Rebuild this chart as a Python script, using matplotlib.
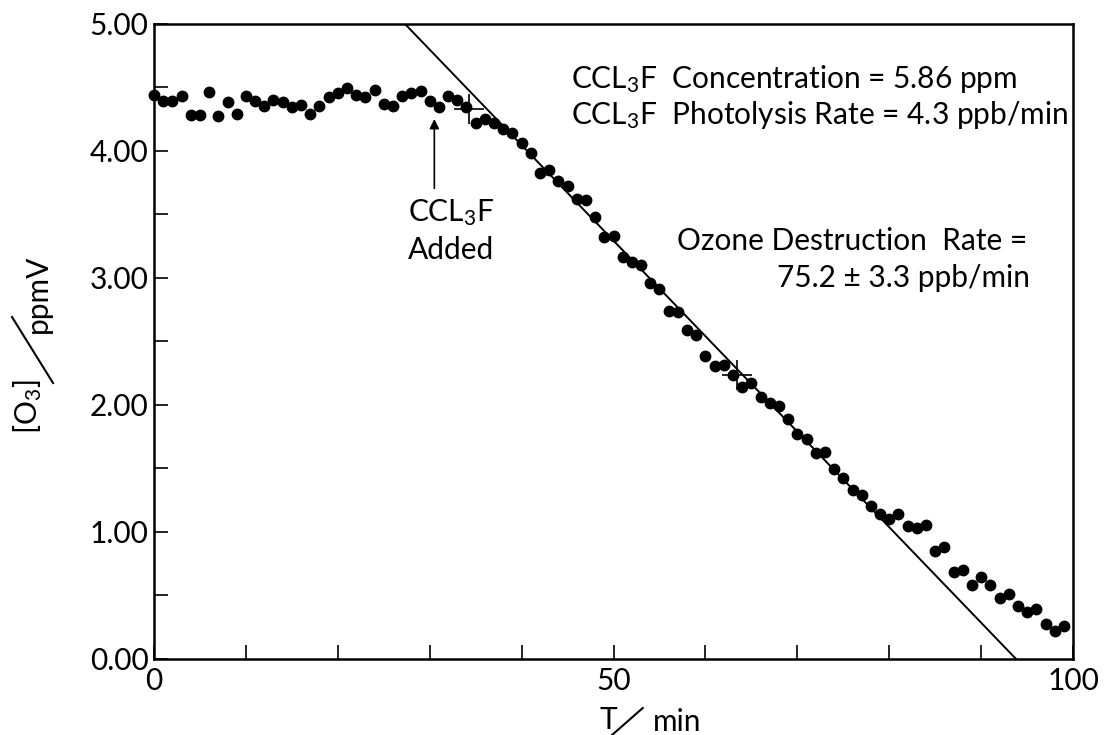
import matplotlib
matplotlib.use('Agg')
import matplotlib.pyplot as plt
from matplotlib.ticker import MultipleLocator, FormatStrFormatter
from matplotlib.lines import Line2D
import numpy as np

plt.rcParams['font.family'] = 'Lato'
plt.rcParams['mathtext.fontset'] = 'custom'
plt.rcParams['mathtext.rm'] = 'Lato'
plt.rcParams['mathtext.it'] = 'Lato:italic'
plt.rcParams['font.size'] = 21.5

# ozone readings, one per minute
minutos = list(range(100))
ozonio = [4.44, 4.39, 4.39, 4.43, 4.28, 4.28, 4.46, 4.27, 4.38, 4.29,
          4.43, 4.39, 4.35, 4.40, 4.38, 4.34, 4.36, 4.29, 4.35, 4.42,
          4.45, 4.49, 4.44, 4.42, 4.48, 4.37, 4.35, 4.43, 4.45, 4.47,
          4.39, 4.34, 4.43, 4.40, 4.34, 4.22, 4.25, 4.22, 4.17, 4.14,
          4.06, 3.98, 3.82, 3.85, 3.76, 3.72, 3.62, 3.61, 3.48, 3.32,
          3.33, 3.16, 3.12, 3.10, 2.96, 2.91, 2.74, 2.73, 2.59, 2.55,
          2.38, 2.30, 2.31, 2.23, 2.14, 2.17, 2.06, 2.01, 1.99, 1.89,
          1.77, 1.73, 1.62, 1.63, 1.49, 1.42, 1.33, 1.29, 1.20, 1.14,
          1.10, 1.14, 1.04, 1.03, 1.05, 0.85, 0.88, 0.68, 0.70, 0.58,
          0.64, 0.58, 0.48, 0.51, 0.41, 0.37, 0.39, 0.27, 0.22, 0.26]

# fitted destruction line: O3 = a + b*t  (b = -75.2 ppb/min)
reta_a = 7.05
reta_b = -0.0752
reta_t = [27, 94]

# crosses marking the fitted window
cruz_t = [34.3, 63.4]
cruz_o3 = [4.33, 2.23]

fig = plt.figure(figsize=(11.12, 7.35), dpi=100)
ax = fig.add_axes([0.1385, 0.104, 0.8265, 0.864])

ax.plot(minutos, ozonio, 'o', color='black', ms=7.5, clip_on=False)
t_reta = np.array(reta_t)
ax.plot(t_reta, reta_a + reta_b * t_reta, color='black', lw=1.4)
ax.plot(cruz_t, cruz_o3, '+', color='black', ms=22, mew=1.2)

ax.set_xlim(0, 100)
ax.set_ylim(0, 5)
ax.xaxis.set_major_locator(MultipleLocator(50))
ax.xaxis.set_minor_locator(MultipleLocator(10))
ax.yaxis.set_major_locator(MultipleLocator(1))
ax.yaxis.set_minor_locator(MultipleLocator(0.5))
ax.yaxis.set_major_formatter(FormatStrFormatter('%.2f'))
ax.tick_params(which='both', direction='in', length=10, width=1.2,
               top=False, right=False)
ax.tick_params(axis='x', pad=6)
ax.tick_params(axis='y', pad=4)
for sp in ax.spines.values():
    sp.set_linewidth(1.8)

# annotations
ax.text(45.4, 4.56, r'CCL$_3$F  Concentration = 5.86 ppm', ha='left', va='center')
ax.text(45.4, 4.28, r'CCL$_3$F  Photolysis Rate = 4.3 ppb/min', ha='left', va='center')
ax.text(32.3, 3.51, r'CCL$_3$F', ha='center', va='center')
ax.text(32.3, 3.22, 'Added', ha='center', va='center')
ax.annotate('', xy=(30.5, 4.27), xytext=(30.5, 3.68),
            arrowprops=dict(arrowstyle='-|>', color='black', lw=1.2, mutation_scale=14))
ax.text(95, 3.29, 'Ozone Destruction  Rate =', ha='right', va='center')
ax.text(95.3, 3.00, '75.2 \u00b1 3.3 ppb/min', ha='right', va='center')

# axis labels drawn as "numerator / denominator" with a long slash
fig.text(0.0252, 0.4463, r'[O$_3$]', rotation=90, ha='center', va='center')
fig.text(0.0342, 0.6000, 'ppmV', rotation=90, ha='center', va='center')
fig.add_artist(Line2D([0.0108, 0.0477], [0.5687, 0.4789], color='black', lw=1.5))

fig.text(0.5470, 0.0204, 'T', ha='center', va='center')
fig.text(0.6090, 0.0177, 'min', ha='center', va='center')
fig.add_artist(Line2D([0.5504, 0.5780], [0.0, 0.0367], color='black', lw=1.5))

plt.savefig('out.png', dpi=100)
